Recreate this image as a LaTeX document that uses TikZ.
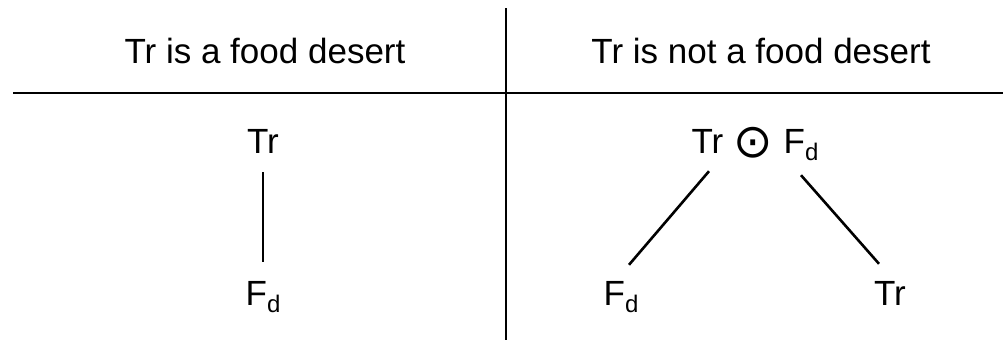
\documentclass[tikz,border=0pt]{standalone}
\usepackage{fontspec}
\setmainfont{Liberation Sans}
\newfontfamily\dejavu{DejaVu Sans}
\usepackage{tikz}

\newcommand{\subd}{\raisebox{-7pt}{\fontsize{24}{24}\selectfont d}}
\newcommand{\odotsym}{\raisebox{-4pt}{\dejavu\fontsize{47}{47}\selectfont ⊙}}

\begin{document}
\begin{tikzpicture}[x=1pt, y=-1pt,
        lbl/.style={inner sep=0pt, anchor=base, text height=25pt, text depth=0pt, font=\fontsize{35}{42}\selectfont},
        rule/.style={line width=2.8pt},
        link/.style={line width=2.6pt}]

        \useasboundingbox (0,0) rectangle (1003,340);

        % table lines
        \draw[rule] (13,93) -- (1003,93);
        \draw[rule] (506,8) -- (506,340);

        \node (hl) [lbl] at (265,63) {Tr is a food desert};
        \node (hr) [lbl] at (761,63) {Tr is not a food desert};

        \node (tl) [lbl] at (263,153) {Tr};
        \node (fl) [lbl] at (263,305) {F\subd};

        \node (tr) [lbl] at (755,153) {Tr\hspace{0.3em}\odotsym\hspace{0.3em}F\subd};
        \node (fr) [lbl] at (621,305) {F\subd};
        \node (trr) [lbl] at (890,305) {Tr};

        \draw[link, shorten <=19pt, shorten >=18pt] (tl.south) -- (fl.north);
        \draw[link] ([shift={(-46,18)}]tr.south) -- ([shift={(8,-15)}]fr.north);
        \draw[link] ([shift={(46,22)}]tr.south) -- ([shift={(-11,-16)}]trr.north);
\end{tikzpicture}
\end{document}
